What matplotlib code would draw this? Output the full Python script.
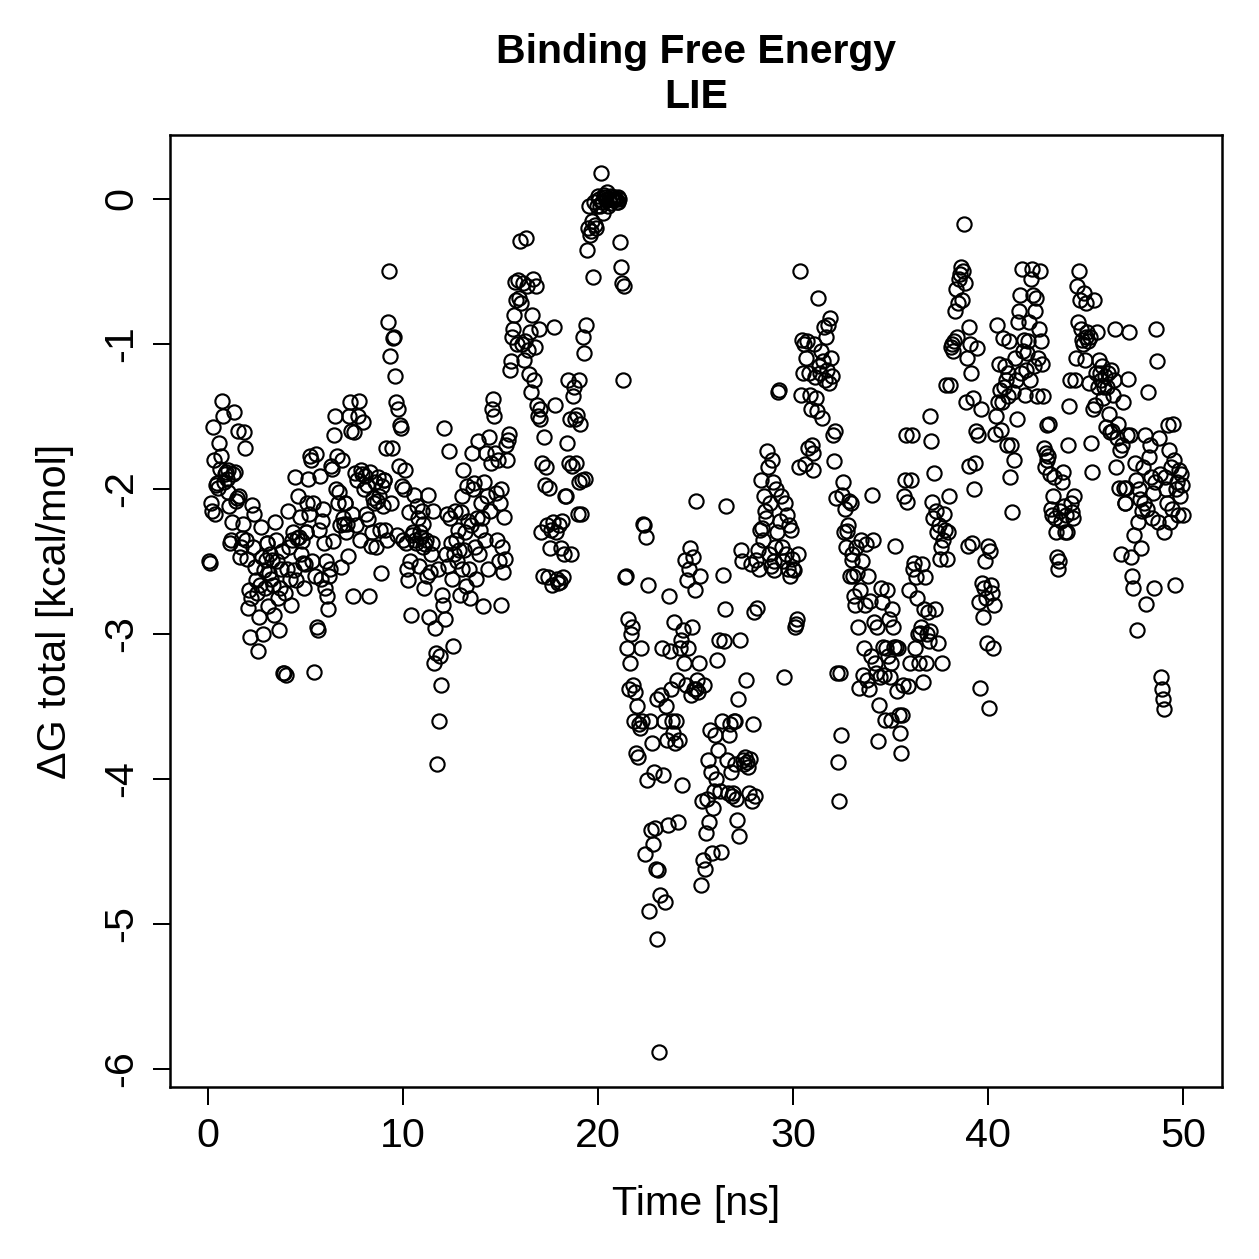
import matplotlib
matplotlib.use("Agg")
import matplotlib.pyplot as plt
import numpy as np

plt.rcParams['font.family'] = ['Liberation Sans', 'DejaVu Sans']
plt.rcParams['axes.unicode_minus'] = False

# one block of 20 frames per ns (dt = 0.05 ns), dG total in kcal/mol
dg_blocks = [
    [-2.50, -2.51, -2.10, -2.15, -1.57, -1.80, -2.17, -1.97, -1.96, -1.99, -1.68, -1.86, -1.77, -1.39, -1.50, -1.95, -1.90, -1.88, -1.93, -2.02],
    [-1.87, -2.12, -2.37, -2.35, -2.23, -1.90, -1.47, -1.88, -2.08, -2.06, -1.60, -2.05, -2.47, -2.40, -2.34, -2.24, -1.61, -1.72, -2.35, -2.48],
    [-2.82, -2.70, -3.02, -2.75, -2.11, -2.40, -2.17, -2.54, -2.63, -2.72, -3.12, -2.88, -2.66, -2.26, -2.47, -3.00, -2.56, -2.68, -2.49, -2.37],
    [-2.37, -2.81, -2.58, -2.45, -2.62, -2.49, -2.66, -2.87, -2.23, -2.35, -2.50, -2.75, -2.97, -2.68, -2.55, -2.43, -3.27, -3.27, -2.72, -3.28],
    [-2.55, -2.15, -2.40, -2.62, -2.80, -2.35, -2.30, -2.56, -1.92, -2.63, -2.34, -2.05, -2.33, -2.19, -2.45, -2.36, -2.51, -2.68, -2.52, -2.30],
    [-2.30, -2.10, -1.93, -2.17, -1.77, -1.80, -2.50, -2.10, -3.26, -2.60, -1.76, -2.95, -2.97, -2.28, -1.91, -2.62, -2.22, -2.14, -2.37, -2.68],
    [-2.50, -2.74, -2.83, -2.60, -2.55, -1.84, -1.86, -2.36, -1.63, -1.50, -2.00, -1.77, -2.10, -2.02, -2.25, -2.54, -1.80, -2.20, -2.24, -2.10],
    [-2.10, -2.30, -2.24, -2.46, -1.50, -1.40, -1.60, -2.17, -2.74, -1.61, -1.89, -2.25, -1.94, -1.50, -1.39, -2.35, -1.87, -1.90, -1.54, -2.00],
    [-1.91, -2.17, -1.97, -2.21, -2.74, -1.88, -2.39, -2.30, -2.06, -2.10, -1.95, -2.40, -2.08, -1.92, -2.05, -2.28, -2.58, -1.98, -2.12, -1.94],
    [-1.94, -2.28, -1.72, -2.35, -0.85, -0.50, -1.08, -2.10, -1.72, -0.96, -0.95, -1.22, -1.40, -2.32, -1.45, -1.84, -1.56, -1.58, -1.98, -2.35],
    [-2.00, -1.87, -2.37, -2.55, -2.63, -2.16, -2.50, -2.87, -2.32, -2.30, -2.04, -2.35, -2.37, -2.12, -2.20, -2.53, -2.30, -2.33, -2.15, -2.40],
    [-2.24, -2.68, -2.38, -2.35, -2.60, -2.04, -2.88, -2.57, -2.45, -2.37, -2.15, -3.20, -2.96, -3.13, -3.90, -2.55, -3.60, -3.15, -3.35, -2.73],
    [-2.80, -1.58, -2.90, -2.45, -2.17, -2.53, -1.74, -2.20, -2.37, -2.62, -3.08, -2.45, -2.15, -2.35, -2.50, -2.28, -2.42, -2.73, -2.16, -2.55],
    [-2.05, -1.87, -2.42, -2.30, -2.67, -1.98, -2.22, -2.55, -2.75, -2.25, -1.75, -2.00, -1.96, -2.40, -2.62, -2.20, -1.67, -2.45, -2.28, -2.10],
    [-2.20, -2.81, -1.95, -2.35, -1.75, -2.05, -2.55, -1.64, -2.15, -1.82, -1.45, -1.38, -1.50, -1.75, -2.03, -2.35, -1.80, -2.50, -2.10, -2.00],
    [-2.80, -2.40, -2.57, -2.19, -2.48, -1.70, -1.80, -1.66, -1.62, -1.18, -1.12, -0.95, -0.90, -0.80, -0.57, -0.70, -1.00, -0.56, -0.68, -0.29],
    [-0.72, -1.00, -0.58, -1.11, -0.98, -0.27, -0.60, -1.04, -1.21, -0.92, -1.33, -0.80, -0.55, -1.25, -1.02, -0.60, -1.42, -1.50, -0.90, -1.45],
    [-1.52, -2.30, -1.82, -2.60, -1.64, -1.97, -1.85, -2.25, -2.61, -1.99, -2.41, -2.28, -2.66, -2.23, -0.88, -1.42, -2.30, -2.62, -2.65, -2.25],
    [-2.64, -2.41, -2.22, -2.61, -2.45, -2.05, -2.05, -1.68, -1.25, -1.82, -1.52, -2.45, -1.84, -1.36, -1.30, -1.52, -1.82, -1.49, -2.17, -1.95],
    [-1.25, -1.55, -2.17, -1.94, -0.95, -1.06, -1.93, -0.87, -0.35, -0.20, -0.05, -0.25, -0.22, -0.15, -0.54, -0.02, -0.18, -0.20, -0.05, 0.02],
    [0.00, -0.05, 0.18, -0.02, -0.10, 0.03, 0.01, -0.01, 0.05, -0.05, 0.00, -0.03, 0.02, 0.00, -0.01, 0.01, 0.00, 0.00, -0.02, 0.01],
    [-0.02, 0.00, -0.30, -0.47, -0.58, -1.25, -0.60, -2.61, -2.60, -3.10, -2.90, -3.38, -3.20, -3.00, -2.95, -3.35, -3.60, -3.40, -3.82, -3.50],
    [-3.85, -3.62, -3.65, -3.10, -3.60, -2.24, -2.25, -4.52, -2.33, -4.01, -2.66, -4.91, -3.60, -4.35, -3.75, -4.45, -3.95, -4.34, -4.62, -3.45],
    [-5.10, -4.63, -5.88, -4.80, -3.42, -3.10, -3.97, -3.60, -4.85, -3.50, -3.73, -4.32, -2.74, -3.12, -3.38, -3.60, -3.68, -2.92, -3.75, -3.60],
    [-3.32, -4.30, -3.73, -3.10, -3.04, -4.04, -2.97, -3.20, -2.49, -3.35, -2.63, -3.10, -2.55, -2.41, -3.42, -2.95, -2.47, -3.38, -2.70, -2.08],
    [-3.38, -3.32, -3.40, -3.20, -2.60, -4.73, -4.15, -4.56, -3.35, -4.62, -4.37, -4.14, -3.87, -4.30, -3.66, -3.95, -4.51, -4.20, -4.08, -3.70],
    [-4.00, -3.18, -3.80, -3.04, -4.08, -4.50, -3.60, -2.59, -3.05, -2.83, -2.12, -3.87, -4.10, -3.70, -3.62, -3.95, -4.12, -4.10, -3.60, -3.90],
    [-3.60, -4.14, -4.28, -3.45, -4.39, -3.04, -2.42, -2.50, -3.87, -3.90, -3.85, -3.32, -3.88, -3.92, -4.10, -3.86, -2.52, -4.15, -3.62, -2.85],
    [-4.12, -2.49, -2.82, -2.42, -2.55, -2.28, -1.94, -2.27, -2.35, -2.05, -2.15, -2.20, -1.74, -1.85, -2.45, -2.10, -2.53, -1.80, -1.95, -2.50],
    [-2.56, -2.40, -2.00, -2.30, -1.33, -1.32, -2.22, -2.05, -2.40, -2.50, -3.30, -2.10, -2.45, -2.18, -2.55, -2.25, -2.60, -2.28, -2.48, -2.55],
    [-2.56, -2.95, -2.93, -2.90, -2.45, -1.85, -0.50, -1.35, -0.97, -1.20, -1.00, -1.83, -1.10, -0.98, -1.72, -1.20, -1.35, -1.45, -1.70, -1.75],
    [-1.87, -1.00, -1.23, -1.37, -1.46, -0.68, -1.15, -1.20, -1.05, -1.51, -1.12, -0.88, -1.25, -0.95, -1.18, -0.87, -1.27, -0.82, -1.10, -1.22],
    [-1.63, -1.81, -1.60, -2.06, -3.27, -3.88, -4.15, -3.27, -3.70, -2.04, -1.95, -2.30, -2.14, -2.40, -2.29, -2.25, -2.08, -2.60, -2.10, -2.45],
    [-2.49, -2.60, -2.74, -2.80, -2.40, -2.58, -2.95, -3.37, -2.70, -2.35, -2.50, -3.28, -3.10, -2.80, -2.38, -3.32, -2.60, -3.38, -2.77, -3.15],
    [-2.04, -2.35, -2.92, -3.20, -3.27, -2.95, -3.74, -3.49, -3.30, -2.68, -2.78, -3.09, -3.28, -3.59, -3.10, -2.70, -3.15, -2.90, -3.30, -3.20],
    [-3.59, -2.83, -2.95, -3.09, -2.39, -3.09, -3.39, -3.10, -3.56, -3.68, -3.82, -3.56, -3.35, -2.05, -1.94, -1.63, -2.09, -3.36, -2.70, -3.20],
    [-1.94, -1.63, -2.55, -2.51, -3.10, -2.61, -2.75, -3.00, -3.20, -2.99, -2.95, -2.52, -3.33, -2.83, -2.61, -3.20, -3.00, -2.85, -3.05, -2.98],
    [-1.50, -1.67, -2.09, -2.20, -1.89, -2.83, -2.15, -2.30, -3.06, -2.25, -2.48, -2.40, -3.20, -2.35, -2.17, -2.28, -1.28, -2.48, -2.30, -2.05],
    [-1.28, -1.02, -1.00, -1.05, -0.98, -0.77, -0.62, -0.95, -0.72, -0.55, -0.52, -0.47, -0.70, -0.50, -0.17, -0.58, -1.40, -1.10, -2.39, -1.84],
    [-0.88, -1.00, -1.20, -2.37, -1.37, -2.00, -1.82, -1.60, -1.03, -1.63, -2.78, -3.37, -1.45, -2.65, -2.88, -2.68, -2.50, -2.75, -3.06, -2.39],
    [-3.51, -2.43, -2.66, -2.72, -3.10, -2.80, -1.62, -1.50, -0.87, -1.40, -1.14, -1.32, -1.59, -1.40, -0.96, -1.30, -1.15, -1.25, -1.70, -1.36],
    [-1.20, -0.98, -1.92, -1.70, -2.16, -1.33, -1.80, -1.10, -1.25, -1.52, -0.85, -0.77, -0.66, -1.20, -0.48, -1.05, -0.97, -1.35, -1.18, -1.06],
    [-0.98, -0.85, -1.25, -0.55, -0.48, -0.66, -1.15, -0.77, -0.68, -1.36, -1.10, -0.90, -0.50, -0.98, -1.14, -1.36, -1.72, -1.85, -1.75, -1.56],
    [-1.80, -1.77, -1.55, -1.90, -2.14, -2.18, -2.05, -1.92, -2.20, -2.30, -2.47, -2.55, -2.50, -2.15, -2.22, -1.95, -1.88, -2.12, -2.30, -2.18],
    [-2.30, -1.70, -1.43, -1.25, -2.10, -2.16, -2.20, -2.05, -1.25, -1.10, -0.60, -0.85, -0.50, -0.70, -0.90, -0.97, -1.00, -0.65, -1.11, -0.95],
    [-0.72, -0.92, -0.98, -1.27, -0.95, -1.68, -1.88, -1.45, -0.70, -1.42, -1.20, -0.92, -1.30, -1.11, -1.20, -1.25, -1.15, -1.37, -1.30, -1.22],
    [-1.57, -1.30, -1.20, -1.48, -1.61, -1.18, -1.60, -1.35, -1.25, -0.90, -1.85, -1.65, -1.55, -1.99, -1.73, -2.45, -1.70, -1.40, -1.99, -2.10],
    [-2.10, -1.99, -1.63, -1.24, -0.92, -1.63, -2.47, -2.60, -2.68, -2.32, -1.82, -1.94, -2.97, -2.23, -2.00, -2.07, -2.41, -2.15, -1.85, -2.10],
    [-1.63, -2.79, -2.14, -1.33, -1.78, -1.70, -1.92, -2.20, -2.03, -2.68, -1.95, -0.90, -1.12, -2.23, -1.65, -1.90, -3.30, -3.38, -3.45, -3.52],
    [-2.30, -1.92, -2.00, -2.10, -1.56, -1.73, -2.23, -1.85, -2.14, -1.55, -1.80, -2.66, -2.00, -1.95, -2.18, -1.87, -2.05, -1.90, -1.97, -2.18],
]
dt_ns = 0.05
x_ticks = [0, 10, 20, 30, 40, 50]
y_ticks = [-6, -5, -4, -3, -2, -1, 0]

dg_total = np.concatenate([np.array(b) for b in dg_blocks])
time_ns = dt_ns * np.arange(1, len(dg_total) + 1)

W = 1259
fig = plt.figure(figsize=(W / 180, W / 180), dpi=180)
ax = fig.add_axes([170 / W, 1 - 1087 / W, (1222 - 170) / W, (1087 - 135) / W])

ax.plot(time_ns, dg_total, linestyle='none', marker='o', markersize=5.7,
        markerfacecolor='none', markeredgecolor='black', markeredgewidth=0.85)

ax.set_xlim(-1.95, 52.0)
ax.set_ylim(-6.124, 0.441)
ax.set_xticks(x_ticks)
ax.set_yticks(y_ticks)
ax.tick_params(direction='out', length=7, width=0.8, labelsize=16.5, pad=5)
plt.setp(ax.get_yticklabels(), rotation=90, va='center')
for s in ax.spines.values():
    s.set_linewidth(1.0)

ax.set_xlabel('Time [ns]', fontsize=16.5, labelpad=12)
ax.set_ylabel('ΔG total [kcal/mol]', fontsize=16.5, labelpad=11)
ax.set_title('Binding Free Energy\nLIE', fontsize=16.4, fontweight='bold',
             linespacing=1.22, pad=11)

fig.savefig('out.png', dpi=180)
